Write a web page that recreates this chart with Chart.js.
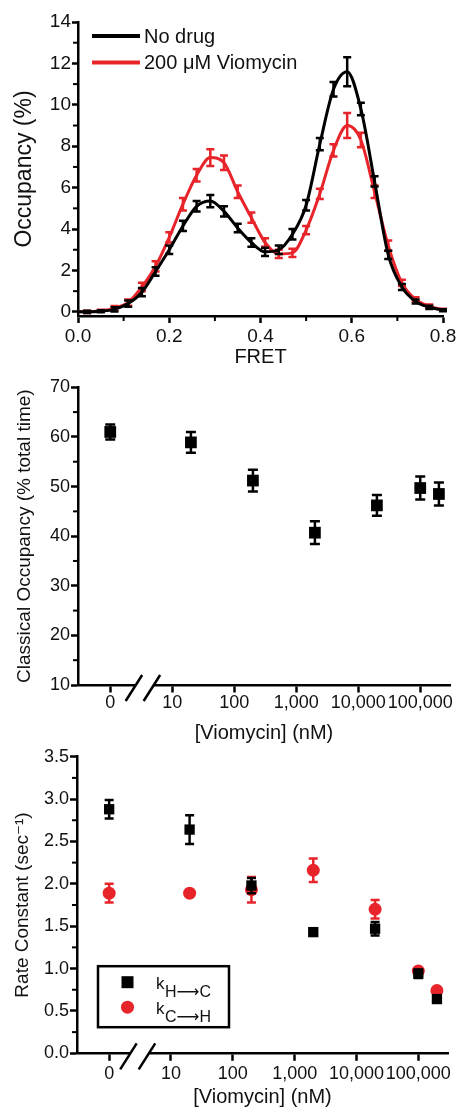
<!DOCTYPE html>
<html>
<head>
<meta charset="utf-8">
<script src="https://cdn.jsdelivr.net/npm/chart.js@4.4.0/dist/chart.umd.min.js"></script>
<style>
  html, body { margin: 0; padding: 0; background: #fff; }
  #wrap { position: relative; width: 471px; height: 1112px; background: #fff; }
  canvas { position: absolute; left: 0; }
</style>
</head>
<body>
<div id="wrap">
  <canvas id="occ" width="471" height="372" style="top:0px"></canvas>
  <canvas id="classical" width="471" height="376" style="top:372px"></canvas>
  <canvas id="rates" width="471" height="364" style="top:748px"></canvas>
</div>
<script>
// --- panel A: FRET histogram
const fret = [0, 0.02, 0.05, 0.08, 0.11, 0.14, 0.17, 0.20, 0.23, 0.26, 0.29, 0.32, 0.35, 0.38,
  0.41, 0.44, 0.47, 0.50, 0.53, 0.56, 0.59, 0.62, 0.65, 0.68, 0.71, 0.74, 0.77, 0.80];
const noDrug = [0, 0.0, 0.03, 0.12, 0.4, 0.95, 1.95, 3.0, 4.15, 5.1, 5.35, 4.85, 4.05, 3.35,
  2.9, 3.0, 3.75, 5.15, 8.1, 10.75, 11.6, 9.8, 6.3, 2.75, 1.2, 0.5, 0.22, 0.08];
const noDrugErr = [0, 0.05, 0.05, 0.1, 0.15, 0.2, 0.2, 0.2, 0.25, 0.25, 0.3, 0.25, 0.2, 0.2,
  0.2, 0.2, 0.25, 0.25, 0.3, 0.35, 0.7, 0.3, 0.25, 0.2, 0.15, 0.1, 0.08, 0.05];
const vio200 = [0, 0.0, 0.05, 0.18, 0.45, 1.2, 2.2, 3.6, 5.2, 6.6, 7.45, 7.2, 5.8, 4.55,
  3.35, 2.8, 2.85, 3.95, 5.7, 7.8, 9.0, 8.3, 5.8, 3.2, 1.4, 0.6, 0.28, 0.1];
const vio200Err = [0, 0.05, 0.05, 0.1, 0.15, 0.2, 0.25, 0.25, 0.3, 0.3, 0.4, 0.35, 0.3, 0.25,
  0.2, 0.2, 0.2, 0.2, 0.25, 0.3, 0.6, 0.35, 0.3, 0.25, 0.15, 0.1, 0.08, 0.05];
const fretTicks = [0, 0.2, 0.4, 0.6, 0.8];
const fretMinor = [0.1, 0.3, 0.5, 0.7];
const occTicks = [0, 2, 4, 6, 8, 10, 12, 14];
const occMinor = [1, 3, 5, 7, 9, 11, 13];

// --- panels B and C: viomycin titration
const conc = [0, 20, 200, 2000, 20000, 100000, 200000];
const concTicks = [0, 1, 2, 3, 4, 5];
const concLabels = ['0', '10', '100', '1,000', '10,000', '100,000'];
const classical = [61.0, 58.9, 51.2, 40.7, 46.2, 49.7, 48.5];
const classicalErr = [1.5, 2.1, 2.2, 2.3, 2.1, 2.3, 2.3];
const classicalTicks = [10, 20, 30, 40, 50, 60, 70];
const classicalMinor = [15, 25, 35, 45, 55, 65];
const kHC = [2.88, 2.64, 1.98, 1.43, 1.47, 0.94, 0.64];
const kHCErr = [0.11, 0.17, 0.09, 0.03, 0.08, 0.05, 0.02];
const kCH = [1.89, 1.89, 1.93, 2.16, 1.70, 0.97, 0.74];
const kCHErr = [0.11, 0.03, 0.15, 0.14, 0.11, 0.04, 0.02];
const rateTicks = [0, 0.5, 1.0, 1.5, 2.0, 2.5, 3.0, 3.5];
const rateMinor = [0.25, 0.75, 1.25, 1.75, 2.25, 2.75, 3.25];

const RED = '#e8242b';
const FONT = "'Liberation Sans', Arial, 'DejaVu Sans', sans-serif";
Chart.defaults.font.family = FONT;
Chart.defaults.color = '#111';

// 0 nM is put one decade below 10 nM, as on the broken axis
const concPos = c => c === 0 ? 0 : Math.log10(c);

const errorBars = {
  id: 'errorBars',
  afterDatasetDraw(chart, args) {
    const ds = chart.data.datasets[args.index];
    if (!ds.errors) return;
    const meta = args.meta;
    const ys = chart.scales[meta.yAxisID];
    const ctx = chart.ctx;
    ctx.save();
    ctx.strokeStyle = ds.barColor || ds.borderColor;
    ctx.lineWidth = 2.5;
    ds.data.forEach((d, i) => {
      const e = ds.errors[i];
      if (!e) return;
      const x = meta.data[i].x;
      const y1 = ys.getPixelForValue(d.y + e);
      const y2 = ys.getPixelForValue(d.y - e);
      const c = ds.capWidth / 2;
      ctx.beginPath();
      ctx.moveTo(x, y1); ctx.lineTo(x, y2);
      ctx.moveTo(x - c, y1); ctx.lineTo(x + c, y1);
      ctx.moveTo(x - c, y2); ctx.lineTo(x + c, y2);
      ctx.stroke();
    });
    ctx.restore();
  }
};

const minorTicks = {
  id: 'minorTicks',
  afterDraw(chart, args, opts) {
    const ctx = chart.ctx;
    ctx.save();
    ctx.strokeStyle = '#000';
    ctx.lineWidth = 2;
    ['x', 'y'].forEach(axis => {
      const vals = opts[axis];
      if (!vals) return;
      const s = chart.scales[axis];
      vals.forEach(v => {
        const p = s.getPixelForValue(v);
        ctx.beginPath();
        if (axis === 'x') { ctx.moveTo(p, s.top); ctx.lineTo(p, s.top + 5); }
        else { ctx.moveTo(s.right, p); ctx.lineTo(s.right - 5, p); }
        ctx.stroke();
      });
    });
    ctx.restore();
  }
};

const axisBreak = {
  id: 'axisBreak',
  afterDraw(chart, args, opts) {
    if (!opts.at) return;
    const ctx = chart.ctx;
    const xs = chart.scales.x;
    const y0 = xs.top;
    const a = xs.getPixelForValue(opts.at[0]);
    const b = xs.getPixelForValue(opts.at[1]);
    ctx.save();
    ctx.fillStyle = '#fff';
    ctx.fillRect(a, y0 - 3, b - a, 6);
    ctx.strokeStyle = '#000';
    ctx.lineWidth = 2.5;
    [a, b].forEach(c => {
      ctx.beginPath();
      ctx.moveTo(c - 10, y0 + 16);
      ctx.lineTo(c + 6.5, y0 - 10);
      ctx.stroke();
    });
    ctx.restore();
  }
};

const lineKey = {
  id: 'lineKey',
  afterDraw(chart, args, opts) {
    if (!opts.items) return;
    const {ctx, chartArea} = chart;
    ctx.save();
    ctx.font = '20px ' + FONT;
    ctx.textBaseline = 'middle';
    opts.items.forEach((it, i) => {
      const y = chartArea.top + 14 + i * 26.5;
      const x = chartArea.left + 14;
      ctx.strokeStyle = it.color;
      ctx.lineWidth = 4;
      ctx.beginPath(); ctx.moveTo(x, y); ctx.lineTo(x + 48, y); ctx.stroke();
      ctx.fillStyle = '#111';
      ctx.fillText(it.label, x + 52, y + 1);
    });
    ctx.restore();
  }
};

const rateKey = {
  id: 'rateKey',
  afterDraw(chart, args, opts) {
    if (!opts.items) return;
    const {ctx, chartArea} = chart;
    const bx = chartArea.left + 21, by = chartArea.top + 209.5;
    ctx.save();
    ctx.strokeStyle = '#000';
    ctx.lineWidth = 2.5;
    ctx.strokeRect(bx, by, 131, 61);
    opts.items.forEach((it, i) => {
      const cx = bx + 29.5, cy = by + 16 + i * 25;
      ctx.fillStyle = it.color;
      if (it.shape === 'rect') ctx.fillRect(cx - 6, cy - 6, 12, 12);
      else { ctx.beginPath(); ctx.arc(cx, cy, 6.5, 0, Math.PI * 2); ctx.fill(); }
      ctx.fillStyle = '#111';
      ctx.textBaseline = 'alphabetic';
      ctx.font = '17px ' + FONT;
      ctx.fillText(it.main, bx + 58, cy + 6.5);
      const w = ctx.measureText(it.main).width;
      ctx.font = '16px ' + FONT;
      ctx.fillText(it.sub, bx + 58 + w + 0.5, cy + 15);
    });
    ctx.restore();
  }
};

const axisGrid = len => ({
  drawOnChartArea: false, drawTicks: true, tickLength: len, tickWidth: 2.5, tickColor: '#000'
});
const axisBorder = {color: '#000', width: 2.5};

function fixTicks(vals) {
  return s => { s.ticks = vals.map(v => ({value: v})); };
}

// ---------- A
new Chart(document.getElementById('occ'), {
  type: 'line',
  data: {
    datasets: [
      {
        label: 'No drug',
        data: fret.map((x, i) => ({x, y: noDrug[i]})),
        errors: noDrugErr, capWidth: 8,
        borderColor: '#000', borderWidth: 3, pointRadius: 0,
        cubicInterpolationMode: 'monotone', clip: false
      },
      {
        label: '200 \u03bcM Viomycin',
        data: fret.map((x, i) => ({x, y: vio200[i]})),
        errors: vio200Err, capWidth: 8,
        borderColor: RED, borderWidth: 3, pointRadius: 0,
        cubicInterpolationMode: 'monotone', clip: false
      }
    ]
  },
  options: {
    responsive: false, animation: false, devicePixelRatio: 1,
    layout: {padding: {top: 22, right: 28, left: 0, bottom: 0}},
    plugins: {
      legend: {display: false}, tooltip: {enabled: false},
      minorTicks: {x: fretMinor, y: occMinor},
      lineKey: {items: [{label: 'No drug', color: '#000'}, {label: '200 \u03bcM Viomycin', color: RED}]}
    },
    scales: {
      x: {
        type: 'linear', min: 0, max: 0.8,
        afterBuildTicks: fixTicks(fretTicks),
        ticks: {callback: v => v.toFixed(1), font: {size: 19}, padding: 2, maxRotation: 0, autoSkip: false},
        grid: axisGrid(7), border: axisBorder,
        title: {display: true, text: 'FRET', font: {size: 20}, padding: {top: 0, bottom: 3}},
        afterFit: s => { s.height = 56; s.paddingLeft = 0; s.paddingRight = 0; }
      },
      y: {
        min: -0.2, max: 14,
        afterBuildTicks: fixTicks(occTicks),
        ticks: {font: {size: 19}, padding: 1},
        grid: axisGrid(6), border: axisBorder,
        title: {display: true, text: 'Occupancy (%)', font: {size: 23}, padding: {top: 11, bottom: 0}},
        afterFit: s => { s.width = 78; s.paddingTop = 0; s.paddingBottom = 0; }
      }
    }
  },
  plugins: [errorBars, minorTicks, lineKey]
});

function concScale(labelPad, height) {
  return {
    type: 'linear', min: -0.52, max: 5.48,
    afterBuildTicks: fixTicks(concTicks),
    ticks: {callback: v => concLabels[concTicks.indexOf(v)], font: {size: 18}, padding: labelPad, maxRotation: 0, autoSkip: false},
    grid: axisGrid(7.5), border: axisBorder,
    title: {display: true, text: '[Viomycin] (nM)', font: {size: 20}, padding: {top: 0, bottom: 3}},
    afterFit: s => { s.height = height; s.paddingLeft = 0; s.paddingRight = 0; }
  };
}

// ---------- B
new Chart(document.getElementById('classical'), {
  type: 'scatter',
  data: {
    datasets: [{
      label: 'Classical occupancy',
      data: conc.map((c, i) => ({x: concPos(c), y: classical[i]})),
      errors: classicalErr, capWidth: 10,
      backgroundColor: '#000', borderColor: '#000', borderWidth: 0,
      pointStyle: 'rect', pointRadius: 8.3, clip: false
    }]
  },
  options: {
    responsive: false, animation: false, devicePixelRatio: 1,
    layout: {padding: {top: 15.3, right: 21, left: 0, bottom: 0}},
    plugins: {
      legend: {display: false}, tooltip: {enabled: false},
      minorTicks: {y: classicalMinor},
      axisBreak: {at: [0.41, 0.70]}
    },
    scales: {
      x: concScale(0, 63),
      y: {
        min: 10, max: 70,
        afterBuildTicks: fixTicks(classicalTicks),
        ticks: {font: {size: 18}, padding: 1},
        grid: axisGrid(7), border: axisBorder,
        title: {display: true, text: 'Classical Occupancy (% total time)', font: {size: 19}, padding: {top: 13.6, bottom: 0}},
        afterFit: s => { s.width = 78; s.paddingTop = 0; s.paddingBottom = 0; }
      }
    }
  },
  plugins: [errorBars, minorTicks, axisBreak]
});

// ---------- C
new Chart(document.getElementById('rates'), {
  type: 'scatter',
  data: {
    datasets: [
      {
        label: 'kH\u2192C',
        data: conc.map((c, i) => ({x: concPos(c), y: kHC[i]})),
        errors: kHCErr, capWidth: 9,
        backgroundColor: '#000', borderColor: '#000', borderWidth: 0,
        pointStyle: 'rect', pointRadius: 7.3, clip: false
      },
      {
        label: 'kC\u2192H',
        data: conc.map((c, i) => ({x: concPos(c), y: kCH[i]})),
        errors: kCHErr, capWidth: 9,
        backgroundColor: RED, borderColor: RED, borderWidth: 0,
        pointStyle: 'circle', pointRadius: 6.5, clip: false
      }
    ]
  },
  options: {
    responsive: false, animation: false, devicePixelRatio: 1,
    layout: {padding: {top: 8.7, right: 23, left: 0, bottom: 0}},
    plugins: {
      legend: {display: false}, tooltip: {enabled: false},
      minorTicks: {y: rateMinor},
      axisBreak: {at: [0.34, 0.64]},
      rateKey: {items: [
        {main: 'k', sub: 'H\u27f6C', color: '#000', shape: 'rect'},
        {main: 'k', sub: 'C\u27f6H', color: RED, shape: 'circle'}
      ]}
    },
    scales: {
      x: concScale(2, 58.7),
      y: {
        min: 0, max: 3.5,
        afterBuildTicks: fixTicks(rateTicks),
        ticks: {callback: v => v.toFixed(1), font: {size: 18}, padding: 1},
        grid: axisGrid(7), border: axisBorder,
        title: {display: true, text: 'Rate Constant (sec\u207b\u00b9)', font: {size: 19}, padding: {top: 11.6, bottom: 0}},
        afterFit: s => { s.width = 77; s.paddingTop = 0; s.paddingBottom = 0; }
      }
    }
  },
  plugins: [errorBars, minorTicks, axisBreak, rateKey]
});
</script>
</body>
</html>
